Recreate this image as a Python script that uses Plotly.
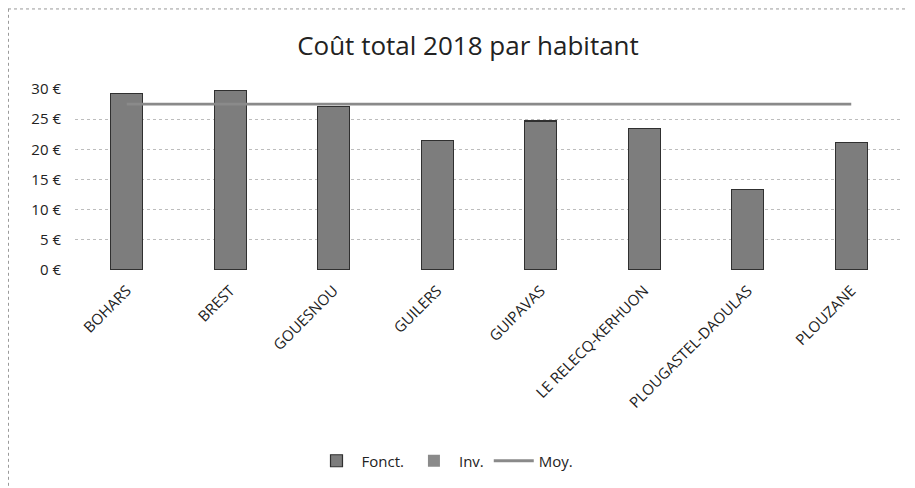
import plotly.graph_objects as go

communes = ["BOHARS", "BREST", "GOUESNOU", "GUILERS", "GUIPAVAS",
            "LE RELECQ-KERHUON", "PLOUGASTEL-DAOULAS", "PLOUZANE"]
fonct = [29.2, 29.7, 27.1, 21.4, 24.7, 23.4, 13.3, 21.1]
inv = [0, 0, 0, 0, 0, 0, 0, 0]
moy = [27.5, 27.5, 27.5, 27.5, 27.5, 27.5, 27.5, 27.5]
y_ticks = [0, 5, 10, 15, 20, 25, 30]
y_labels = ["0 €", "5 €", "10 €", "15 €", "20 €", "25 €", "30 €"]

# page has an 8px body margin; work in figure coordinates
OFF = 8
W, H = 907, 480
L, R, T, B = 75 - OFF, 903 - OFF, 89 - OFF, 271 - OFF

fig = go.Figure()
fig.add_trace(go.Bar(x=communes, y=fonct, name="Fonct.",
                     marker=dict(color="#7d7d7d", line=dict(color="#303030", width=1.2))))
fig.add_trace(go.Bar(x=communes, y=inv, name="Inv.",
                     marker=dict(color="#8a8a8a", line=dict(color="#404040", width=0))))
fig.add_trace(go.Scatter(x=communes, y=moy, name="Moy.", mode="lines",
                         line=dict(color="#8a8a8a", width=2.8)))

def px(x):
    return (x - L) / (R - L)

def py(y):
    return (B - y) / (B - T)

fig.update_layout(
    width=W, height=H,
    margin=dict(l=L, r=W - R, t=T, b=H - B),
    paper_bgcolor="white", plot_bgcolor="white",
    barmode="stack", bargap=0.69,
    font=dict(family="Open Sans, Noto Sans, sans-serif", color="#222222"),
    title=dict(text="Coût total 2018 par habitant", x=(468 - OFF) / W, xanchor="center",
               y=1 - (46 - OFF) / H, yanchor="middle",
               font=dict(size=26, color="#222222")),
    showlegend=True,
    legend=dict(orientation="h", x=px(445 - OFF), xanchor="center",
                y=py(461 - OFF), yanchor="middle", itemwidth=40,
                font=dict(size=15, color="#222222"), traceorder="normal"),
    xaxis=dict(tickangle=-45, tickfont=dict(size=15, color="#222222"),
               showgrid=False, showline=False, ticks="", ticklabelstandoff=8),
    yaxis=dict(range=[0, 30], tickvals=y_ticks, ticktext=y_labels,
               tickfont=dict(size=15, color="#222222"),
               showgrid=True, gridcolor="#bdbdbd", griddash="dot", gridwidth=1,
               zeroline=False, showline=False, ticks="", ticklabelstandoff=13),
    shapes=[
        dict(type="line", xref="paper", yref="paper",
             x0=px(0.5), x1=px(0.5), y0=py(H), y1=py(0),
             line=dict(color="#9a9a9a", width=1, dash="dot")),
        dict(type="line", xref="paper", yref="paper",
             x0=px(0), x1=px(W), y0=py(0.5), y1=py(0.5),
             line=dict(color="#9a9a9a", width=1, dash="dot")),
    ],
)

fig.write_html("out.html")
